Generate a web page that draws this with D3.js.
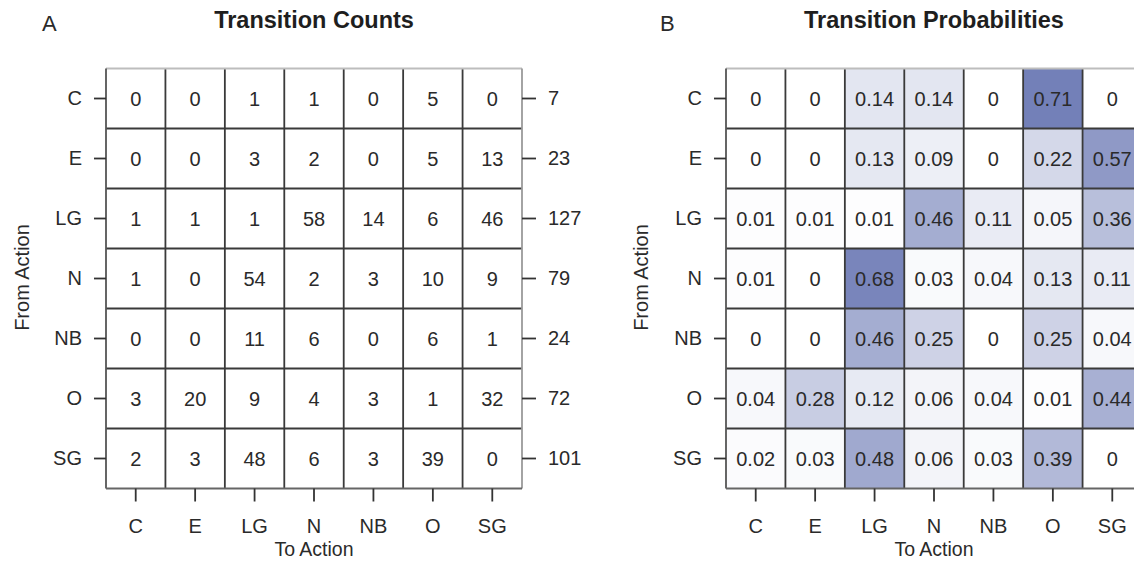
<!DOCTYPE html>
<html>
<head>
<meta charset="utf-8">
<script src="https://cdn.jsdelivr.net/npm/d3@7"></script>
<style>
  html, body { margin: 0; padding: 0; background: #fff; }
  svg { display: block; font-family: "Liberation Sans", Arial, Helvetica, sans-serif; }
</style>
</head>
<body>
<svg id="chart" width="1134" height="561"></svg>
<script>
// ---- data ----
const actions = ["C", "E", "LG", "N", "NB", "O", "SG"];
const counts = [
  [0, 0, 1, 1, 0, 5, 0],
  [0, 0, 3, 2, 0, 5, 13],
  [1, 1, 1, 58, 14, 6, 46],
  [1, 0, 54, 2, 3, 10, 9],
  [0, 0, 11, 6, 0, 6, 1],
  [3, 20, 9, 4, 3, 1, 32],
  [2, 3, 48, 6, 3, 39, 0]
];
const rowTotals = [7, 23, 127, 79, 24, 72, 101];
const probs = [
  [0, 0, 0.14, 0.14, 0, 0.71, 0],
  [0, 0, 0.13, 0.09, 0, 0.22, 0.57],
  [0.01, 0.01, 0.01, 0.46, 0.11, 0.05, 0.36],
  [0.01, 0, 0.68, 0.03, 0.04, 0.13, 0.11],
  [0, 0, 0.46, 0.25, 0, 0.25, 0.04],
  [0.04, 0.28, 0.12, 0.06, 0.04, 0.01, 0.44],
  [0.02, 0.03, 0.48, 0.06, 0.03, 0.39, 0]
];
const panelTitles = ["Transition Counts", "Transition Probabilities"];
const panelLetters = ["A", "B"];

// ---- drawing ----
const svg = d3.select("#chart");
const textColor = "#2a2a2a";
const fontSize = 20;

const y = d3.scaleBand().domain(actions).range([68.5, 488.5]).padding(0);

const maxP = d3.max(probs.flat());
const color = d3.scaleLinear().domain([0, maxP]).range(["#ffffff", "#7380b8"]);

function fmtP(v) { return v === 0 ? "0" : d3.format(".2f")(v); }

function drawPanel(opts) {
  const x = d3.scaleBand().domain(actions).range(opts.xRange).padding(0);
  const g = svg.append("g");
  const cells = [];
  opts.data.forEach((row, i) => row.forEach((v, j) => cells.push({ r: actions[i], c: actions[j], v })));

  g.selectAll("rect.cell").data(cells).enter().append("rect")
    .attr("class", "cell")
    .attr("x", d => x(d.c)).attr("y", d => y(d.r))
    .attr("width", x.bandwidth()).attr("height", y.bandwidth())
    .attr("fill", d => opts.fill ? opts.fill(d.v) : "#ffffff");

  // inner grid lines
  const x0 = opts.xRange[0], x1 = opts.xRange[1];
  const y0 = y.range()[0], y1 = y.range()[1];
  const lw = 1.8;
  g.selectAll("line.v").data(actions.slice(1)).enter().append("line")
    .attr("x1", d => x(d)).attr("x2", d => x(d)).attr("y1", y0).attr("y2", y1)
    .attr("stroke", "#3a3a3a").attr("stroke-width", lw);
  g.selectAll("line.h").data(actions.slice(1)).enter().append("line")
    .attr("y1", d => y(d)).attr("y2", d => y(d)).attr("x1", x0).attr("x2", x1)
    .attr("stroke", "#3a3a3a").attr("stroke-width", lw);
  // outer border
  g.append("line").attr("x1", x0).attr("x2", x1).attr("y1", y0).attr("y2", y0).attr("stroke", "#bdbdbd").attr("stroke-width", lw);
  g.append("line").attr("x1", x1).attr("x2", x1).attr("y1", y0).attr("y2", y1).attr("stroke", "#9a9a9a").attr("stroke-width", lw);
  g.append("line").attr("x1", x0).attr("x2", x0).attr("y1", y0).attr("y2", y1).attr("stroke", "#555").attr("stroke-width", lw);
  g.append("line").attr("x1", x0).attr("x2", x1).attr("y1", y1).attr("y2", y1).attr("stroke", "#666").attr("stroke-width", lw);

  g.selectAll("text.val").data(cells).enter().append("text")
    .attr("class", "val")
    .attr("x", d => x(d.c) + x.bandwidth() / 2)
    .attr("y", d => y(d.r) + y.bandwidth() / 2)
    .attr("dy", "0.36em")
    .attr("text-anchor", "middle")
    .attr("font-size", fontSize)
    .attr("fill", textColor)
    .text(d => opts.fmt(d.v));

  // left axis
  const left = g.append("g").attr("transform", `translate(${x0},0)`)
    .call(d3.axisLeft(y).tickSize(12).tickPadding(12));
  // bottom axis
  const bottom = g.append("g").attr("transform", `translate(0,${y1})`)
    .call(d3.axisBottom(x).tickSize(13).tickPadding(17));
  const axes = [left, bottom];
  if (opts.rightLabels) {
    const yr = d3.scaleBand().domain(opts.rightLabels.map(String)).range(y.range()).padding(0);
    axes.push(g.append("g").attr("transform", `translate(${x1},0)`)
      .call(d3.axisRight(yr).tickSize(14).tickPadding(12)));
  }
  axes.forEach(a => {
    a.select(".domain").remove();
    a.selectAll(".tick line").attr("stroke", "#333").attr("stroke-width", lw);
    a.selectAll(".tick text").attr("font-size", fontSize).attr("fill", textColor)
      .attr("font-family", '"Liberation Sans", Arial, sans-serif');
  });

  const cx = (x0 + x1) / 2;
  g.append("text").attr("x", cx).attr("y", 556).attr("text-anchor", "middle")
    .attr("font-size", 19.5).attr("fill", textColor).text("To Action");
  g.append("text").attr("transform", `translate(${opts.yTitleX},${(y0 + y1) / 2 - 1}) rotate(-90)`)
    .attr("text-anchor", "middle").attr("dy", "0.36em")
    .attr("font-size", 20).attr("fill", textColor).text("From Action");
  g.append("text").attr("x", cx).attr("y", 28).attr("text-anchor", "middle")
    .attr("font-size", 23.5).attr("font-weight", "bold").attr("fill", "#1e1e1e").text(opts.title);
  g.append("text").attr("x", opts.letterX).attr("y", 31)
    .attr("font-size", 22).attr("fill", textColor).text(opts.letter);
}

drawPanel({
  xRange: [106, 522], data: counts, fmt: v => String(v),
  rightLabels: rowTotals, yTitleX: 22, title: panelTitles[0], letter: panelLetters[0], letterX: 42
});
drawPanel({
  xRange: [726, 1142], data: probs, fmt: fmtP, fill: color,
  yTitleX: 641, title: panelTitles[1], letter: panelLetters[1], letterX: 660
});
</script>
</body>
</html>
